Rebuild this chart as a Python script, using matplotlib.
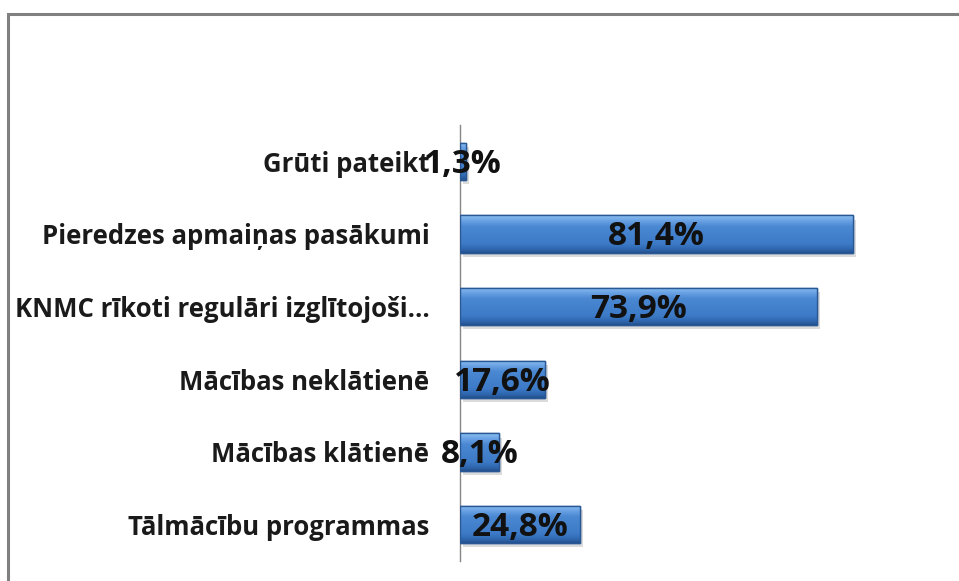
import numpy as np
import matplotlib
matplotlib.use("Agg")
import matplotlib.pyplot as plt
from matplotlib import patheffects as pe
from matplotlib.patches import Rectangle
from matplotlib.colors import LinearSegmentedColormap

categories = ["Tālmācību programmas", "Mācības klātienē", "Mācības neklātienē",
              "KNMC rīkoti regulāri izglītojoši...", "Pieredzes apmaiņas pasākumi",
              "Grūti pateikt"]
values = [24.8, 8.1, 17.6, 73.9, 81.4, 1.3]
value_labels = ["24,8%", "8,1%", "17,6%", "73,9%", "81,4%", "1,3%"]

W, H = 959, 581
fig = plt.figure(figsize=(W / 100, H / 100), dpi=100)
fig.patch.set_facecolor("white")

# outer chart border (extends beyond right/bottom edges)
fig.add_artist(Rectangle((8 / W, -0.1), 1.2, 1 - 13.5 / H + 0.1, transform=fig.transFigure,
                         fill=False, edgecolor="#808080", linewidth=2.2))

ax = fig.add_axes([460 / W, 1 - 561 / H, 483 / W, 436 / H])
ax.set_xlim(0, 100)
ax.set_ylim(-0.5, len(categories) - 0.5)

bars = ax.barh(range(len(categories)), values, height=0.51, color="#3f7ecb",
               edgecolor="#2a5895", linewidth=1.0, zorder=3,
               path_effects=[pe.SimplePatchShadow(offset=(2, -3), shadow_rgbFace="#999999", alpha=0.35),
                             pe.Normal()])

cmap = LinearSegmentedColormap.from_list("bev", [
    (0.0, "#8cc0f2"), (0.12, "#6fa6e6"), (0.3, "#4a88d2"),
    (0.75, "#3d7bc8"), (0.9, "#3068b0"), (1.0, "#24528f")])
grad = np.linspace(0, 1, 64).reshape(-1, 1)
for b in bars:
    x0, y0 = b.get_x(), b.get_y()
    w, h = b.get_width(), b.get_height()
    im = ax.imshow(grad, cmap=cmap, aspect="auto", extent=(x0, x0 + w, y0, y0 + h),
                   origin="upper", zorder=3.5, interpolation="bilinear")
    im.set_clip_path(b)
    ax.add_patch(Rectangle((x0, y0), w, h, fill=False, edgecolor="#2a5895",
                           linewidth=1.0, zorder=3.6))

for i, (v, lab) in enumerate(zip(values, value_labels)):
    ax.text(v / 2, i - 0.04, lab, ha="center", va="center", fontsize=24, fontweight="bold",
            family=["Open Sans", "DejaVu Sans"], color="#111111", zorder=5)

ax.set_yticks(range(len(categories)))
ax.set_yticklabels(categories, fontsize=18.5, fontweight="bold",
                   family=["Open Sans", "DejaVu Sans"], color="#1a1a1a")
ax.tick_params(axis="y", length=0, pad=22)
ax.set_xticks([])
for s in ["top", "right", "bottom"]:
    ax.spines[s].set_visible(False)
ax.spines["left"].set_color("#868686")
ax.spines["left"].set_linewidth(1.0)
ax.set_facecolor("none")

fig.savefig("out.png", dpi=100, facecolor="white")
